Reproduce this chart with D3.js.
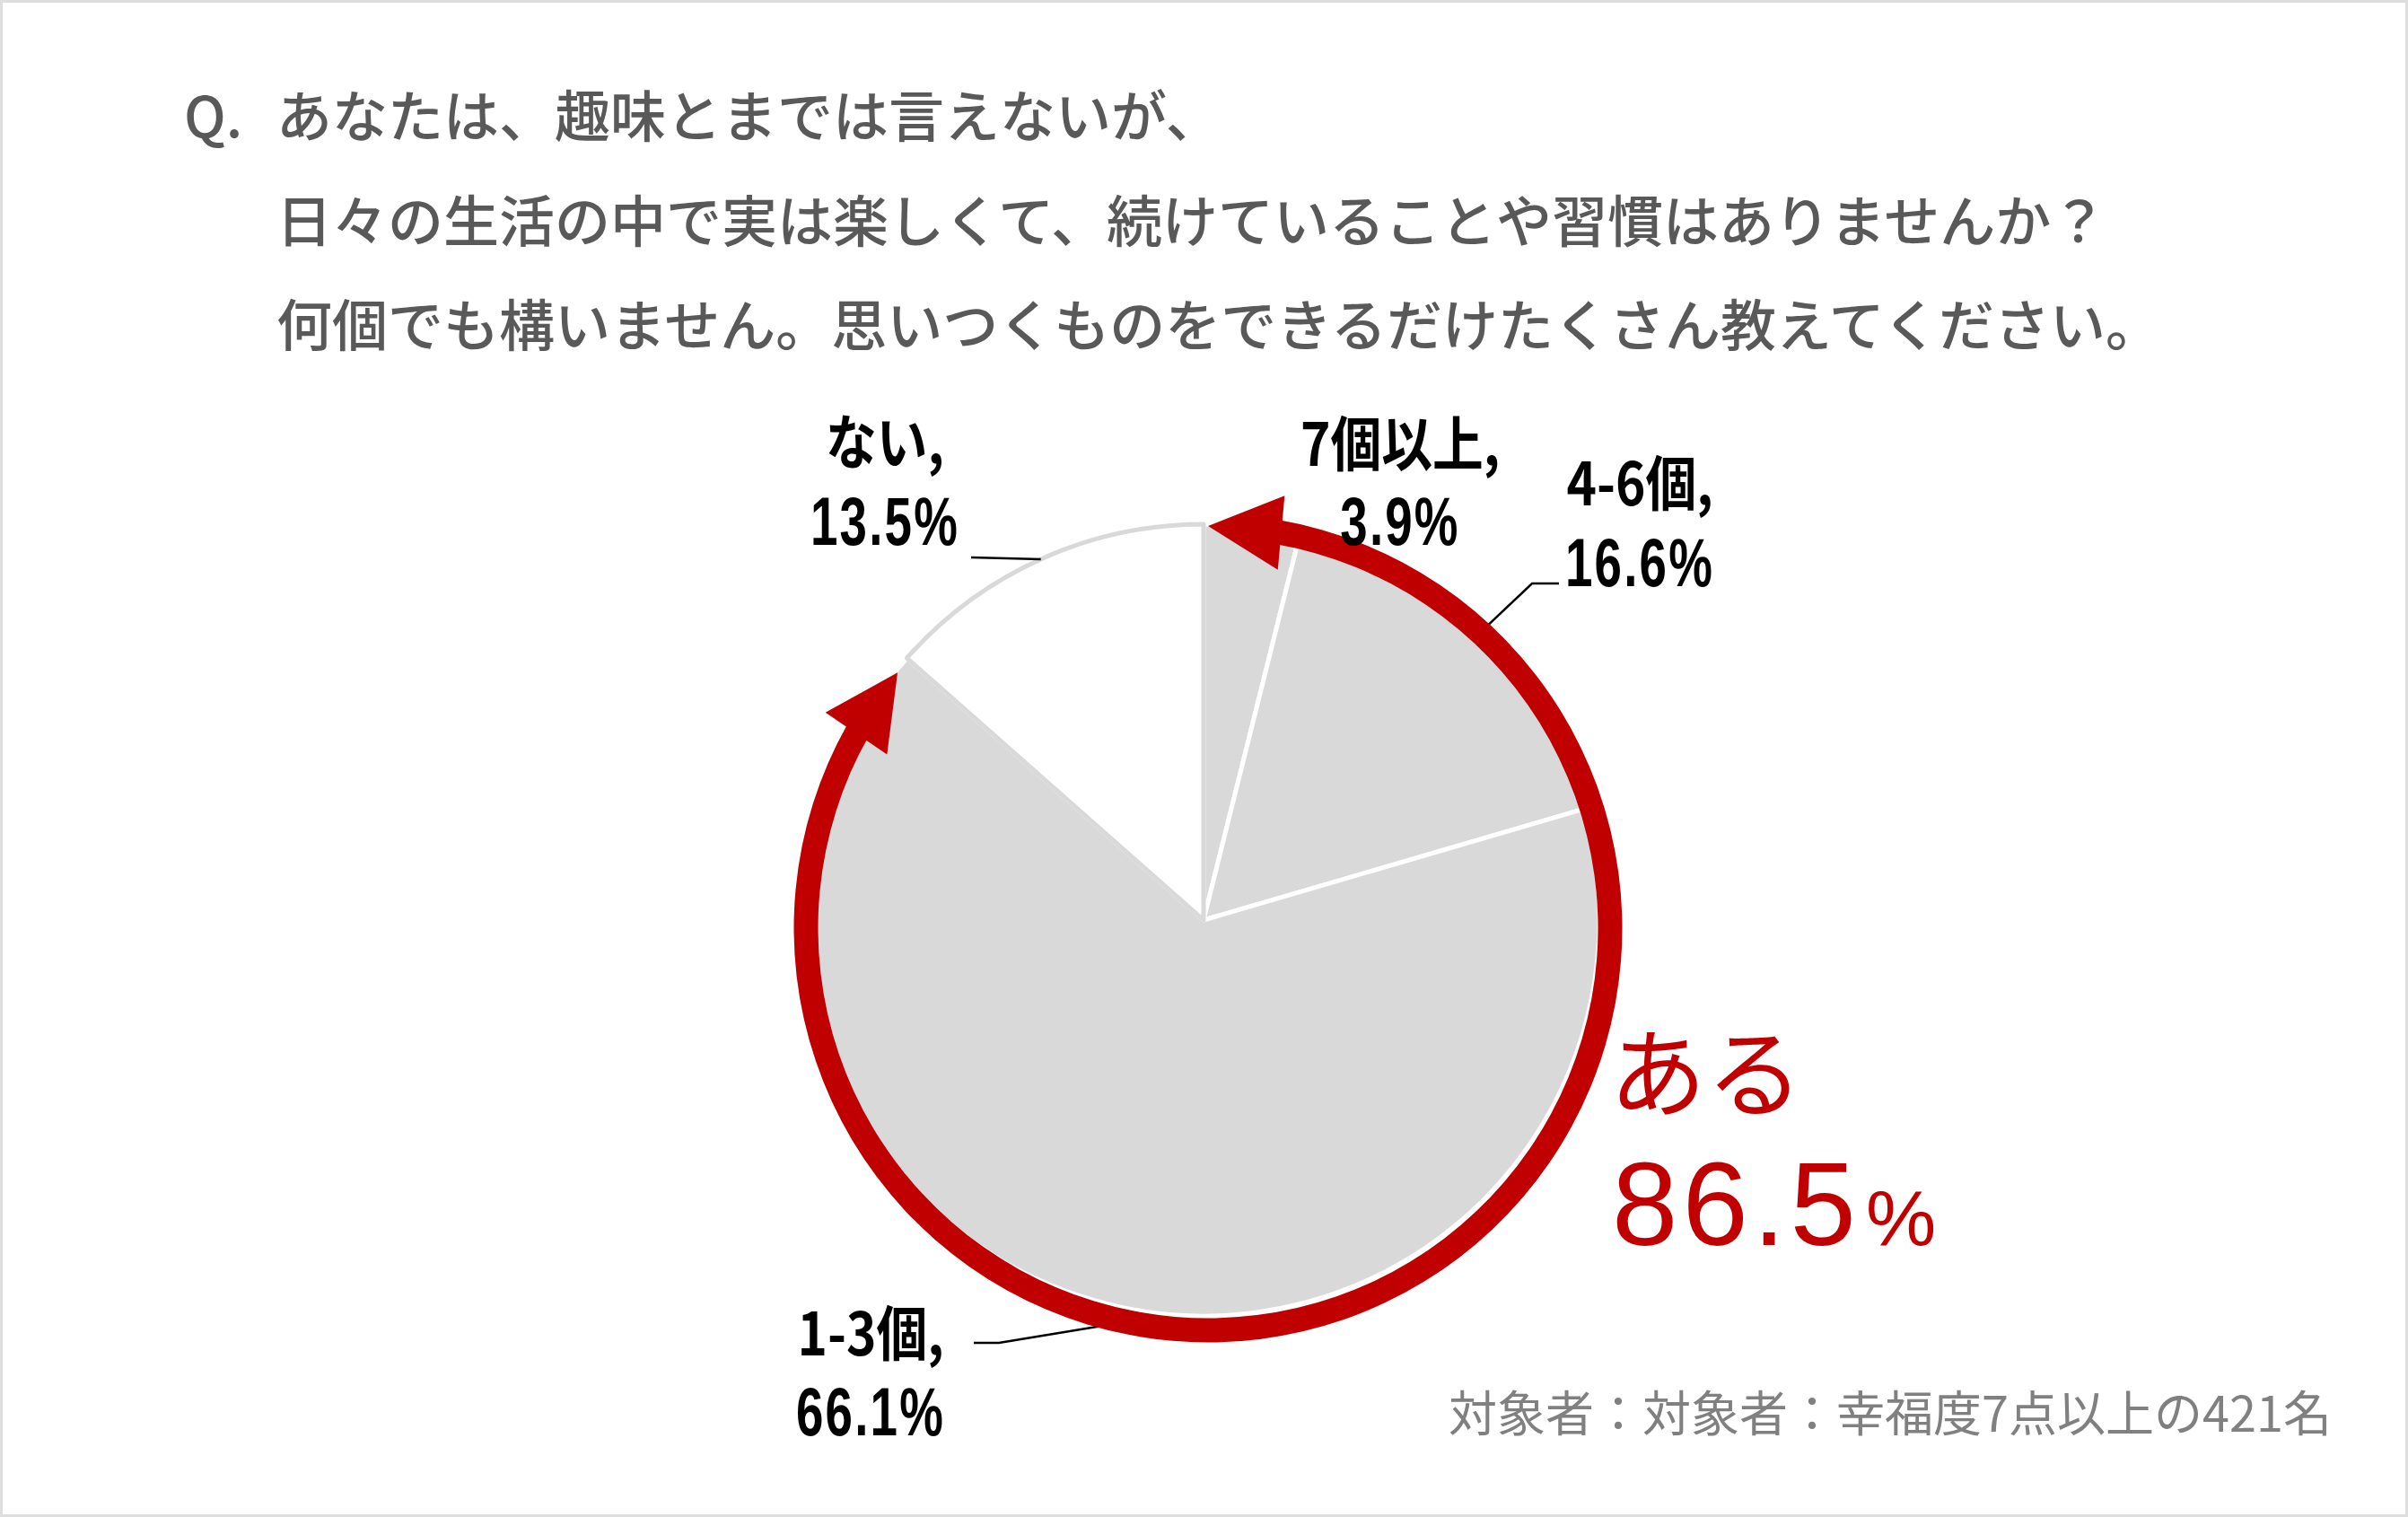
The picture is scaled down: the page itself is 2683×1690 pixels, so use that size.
<!DOCTYPE html>
<html>
<head>
<meta charset="utf-8">
<script src="https://cdn.jsdelivr.net/npm/d3@7/dist/d3.min.js"></script>
<style>
  html, body { margin: 0; padding: 0; background: #fff; }
  svg { display: block; }
</style>
</head>
<body>
<svg id="chart" width="2683" height="1690"></svg>
<script>
// ---------- data ----------
const categories = ["7個以上", "4-6個", "1-3個", "ない"];
const values = [3.9, 16.6, 66.1, 13.5];
const pctLabels = ["3.9%", "16.6%", "66.1%", "13.5%"];
const questionPrefix = "Q.";
const titleLines = [
  "あなたは、趣味とまでは言えないが、",
  "日々の生活の中で実は楽しくて、続けていることや習慣はありませんか？",
  "何個でも構いません。思いつくものをできるだけたくさん教えてください。"
];
const highlightLabel = "ある";
const highlightValue = "86.5";
const highlightUnit = "%";
const noteText = "対象者：対象者：幸福度7点以上の421名";

// ---------- layout ----------
const W = 2683, H = 1690;
const cx = 1341, cy = 1025, r = 441;
const ringCx = cx + 5, ringCy = cy + 9, ringR = 448, ringW = 27;
const headLen = 82, headHalf = 41.5;
const red = "#c00000";
const font = "'Noto Sans CJK JP', 'Noto Sans', sans-serif";
const numFont = "'Liberation Sans', Arial, sans-serif";

const svg = d3.select("#chart");

// border
svg.append("rect").attr("x", 1.5).attr("y", 1.5).attr("width", W - 3).attr("height", H - 3)
  .attr("fill", "#fff").attr("stroke", "#dedede").attr("stroke-width", 3);

// ---------- title ----------
const titleG = svg.append("g").attr("font-family", font).attr("font-weight", 500)
  .attr("font-size", 62).attr("fill", "#595959");
const titleBaselines = [153, 270, 386];
titleG.append("text").attr("x", 205).attr("y", titleBaselines[0]).text(questionPrefix);
titleLines.forEach((t, i) => {
  titleG.append("text").attr("x", 308).attr("y", titleBaselines[i]).text(t);
});

// ---------- pie ----------
const pie = d3.pie().sort(null).value(d => d)(values);
const arc = d3.arc().innerRadius(0).outerRadius(r);
const pieG = svg.append("g").attr("transform", `translate(${cx},${cy})`);

const noneIdx = categories.indexOf("ない");
pieG.selectAll("path.slice")
  .data(pie.filter((d, i) => i !== noneIdx))
  .join("path").attr("class", "slice")
  .attr("d", arc).attr("fill", "#d9d9d9")
  .attr("stroke", "#ffffff").attr("stroke-width", 5).attr("stroke-linejoin", "round");
pieG.append("path").datum(pie[noneIdx])
  .attr("d", arc).attr("fill", "#ffffff")
  .attr("stroke", "#d9d9d9").attr("stroke-width", 5).attr("stroke-linejoin", "round");

// ---------- leader lines ----------
function edgePoint(d, rad) {
  const a = (d.startAngle + d.endAngle) / 2;
  return [cx + rad * Math.sin(a), cy - rad * Math.cos(a)];
}
const labelLayout = [
  { x: 1560, y1: 519, y2: 607, leader: null },
  { x: 1827, y1: 563, y2: 653, leader: [[1737, 650], [1707, 650]], rad: r },
  { x: 970, y1: 1510, y2: 1599, leader: [[1085, 1496], [1113, 1496]], rad: r + 20 },
  { x: 986, y1: 517, y2: 607, leader: [[1082, 621]], rad: r }
];
const lineGen = d3.line();
labelLayout.forEach((L, i) => {
  if (!L.leader) return;
  const pts = L.leader.concat([edgePoint(pie[i], L.rad)]);
  svg.append("path").attr("d", lineGen(pts)).attr("fill", "none")
    .attr("stroke", "#000").attr("stroke-width", 2.5);
});

// ---------- red arrow ring ----------
const deg = Math.PI / 180;
const arrowStart = pie[0].startAngle;
const arrowEnd = pie[2].endAngle - 2.0 * deg;
const dAng = headLen / ringR;
const ringG = svg.append("g").attr("transform", `translate(${ringCx},${ringCy})`);
ringG.append("path")
  .attr("d", d3.arc().innerRadius(ringR - ringW / 2).outerRadius(ringR + ringW / 2)
    .startAngle(arrowStart + dAng - 0.6 * deg).endAngle(arrowEnd - dAng + 0.6 * deg)())
  .attr("fill", red);
function pt(a, rad) { return [rad * Math.sin(a), -rad * Math.cos(a)]; }
function head(tipA, baseA) {
  const t = pt(tipA, ringR), b = pt(baseA, ringR);
  const dx = t[0] - b[0], dy = t[1] - b[1];
  const len = Math.hypot(dx, dy);
  const nx = -dy / len, ny = dx / len;
  return [t, [b[0] + nx * headHalf, b[1] + ny * headHalf], [b[0] - nx * headHalf, b[1] - ny * headHalf]];
}
[head(arrowStart, arrowStart + dAng), head(arrowEnd, arrowEnd - dAng)].forEach(p => {
  ringG.append("path").attr("d", "M" + p.map(q => q.join(",")).join("L") + "Z").attr("fill", red);
});

// ---------- data labels (condensed bold, one text per line) ----------
function labelLine(str, x, y, fam, size, squeeze, spacing) {
  const t = svg.append("text").attr("x", x).attr("y", y)
    .attr("text-anchor", "middle").attr("font-family", fam).attr("font-weight", 700)
    .attr("font-size", size).attr("letter-spacing", spacing).attr("fill", "#000").text(str);
  const w = t.node().getComputedTextLength();
  t.attr("textLength", w * squeeze).attr("lengthAdjust", "spacingAndGlyphs");
}
categories.forEach((c, i) => {
  const L = labelLayout[i];
  labelLine(c + ",", L.x, L.y1, font, 66, 0.86, 0);
  labelLine(pctLabels[i], L.x, L.y2, numFont, 76, 0.72, 3);
});

// ---------- highlight ----------
const hv = svg.append("text").attr("font-weight", 400).attr("fill", red);
hv.append("tspan").attr("x", 1793).attr("y", 1236).attr("font-family", font)
  .attr("font-size", 108).text(highlightLabel);
hv.append("tspan").attr("x", 1796).attr("y", 1387).attr("font-family", numFont)
  .attr("font-size", 132).attr("letter-spacing", 5).text(highlightValue);
hv.append("tspan").attr("font-family", numFont).attr("font-size", 88).attr("dx", 6).text(highlightUnit);

// ---------- note ----------
svg.append("text").attr("x", 2598).attr("y", 1595).attr("text-anchor", "end")
  .attr("font-family", font).attr("font-weight", 400).attr("font-size", 54)
  .attr("fill", "#808080").text(noteText);
</script>
</body>
</html>
